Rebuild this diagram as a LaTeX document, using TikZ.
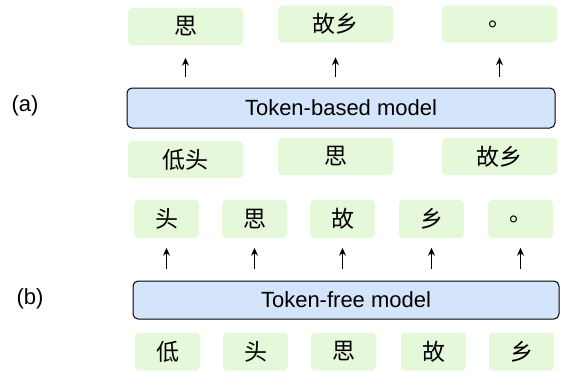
\documentclass[tikz,border=0pt]{standalone}
\usepackage{fontspec}
\setmainfont{Liberation Sans}
\newfontfamily\cjk{Noto Sans CJK SC}
\usepackage{tikz}
\usetikzlibrary{arrows.meta}
\definecolor{tokgreen}{HTML}{E5F8DA}
\definecolor{modblue}{HTML}{D4E5FB}

\begin{document}
\begin{tikzpicture}[x=1pt,y=-1pt,line width=1.5pt,>={Stealth[length=8pt,width=7pt]},
  tok/.style={fill=tokgreen,rounded corners=4pt,inner sep=0pt,font=\cjk\fontsize{23}{27}\selectfont},
  wide/.style={tok,minimum width=115pt,minimum height=37pt},
  narrow/.style={tok,minimum width=65pt,minimum height=38pt},
  model/.style={draw=black,line width=1pt,fill=modblue,rounded corners=5pt,inner sep=0pt,
    font=\fontsize{22}{26}\selectfont},
  tag/.style={font=\fontsize{22}{26}\selectfont}]

  \useasboundingbox (0,0) rectangle (562,372);

  % (a) token-based
  \node[tag] at (25,106) (la) {(a)};
  \node[model,minimum width=428pt,minimum height=40pt] at (341,108) (ma) {Token-based model};

  \node[wide] at (185.5,26.5) (oa1) {思};
  \node[wide] at (335.5,24) (oa2) {故乡};
  \node[wide] at (499.5,24) (oa3) {。};

  \node[wide] at (185.5,159.5) (ia1) {低头};
  \node[wide] at (335.5,156.5) (ia2) {思};
  \node[wide] at (499.5,156.5) (ia3) {故乡};

  \draw [->,shorten <=11pt,shorten >=12pt] (ma.north -| oa1) -- (oa1.south);
  \draw [->,shorten <=11pt,shorten >=14pt] (ma.north -| oa2) -- (oa2.south);
  \draw [->,shorten <=11pt,shorten >=14pt] (ma.north -| oa3) -- (oa3.south);

  % (b) token-free
  \node[tag] at (30,299) (lb) {(b)};
  \node[model,minimum width=426pt,minimum height=38pt] at (346,300) (mb) {Token-free model};

  \node[narrow] at (166.5,219) (ob1) {头};
  \node[narrow] at (254.5,219) (ob2) {思};
  \node[narrow] at (342.5,219) (ob3) {故};
  \node[narrow] at (431.5,219) (ob4) {乡};
  \node[narrow] at (520.5,219) (ob5) {。};

  \node[narrow] at (167.5,351.5) (ib1) {低};
  \node[narrow] at (255.5,351.5) (ib2) {头};
  \node[narrow] at (343.5,351.5) (ib3) {思};
  \node[narrow] at (433.5,351.5) (ib4) {故};
  \node[narrow] at (521.5,351.5) (ib5) {乡};

  \draw [->,shorten <=12pt,shorten >=9pt] (mb.north -| ob1) -- (ob1.south);
  \draw [->,shorten <=12pt,shorten >=9pt] (mb.north -| ob2) -- (ob2.south);
  \draw [->,shorten <=12pt,shorten >=9pt] (mb.north -| ob3) -- (ob3.south);
  \draw [->,shorten <=12pt,shorten >=9pt] (mb.north -| ob4) -- (ob4.south);
  \draw [->,shorten <=12pt,shorten >=9pt] (mb.north -| ob5) -- (ob5.south);

\end{tikzpicture}
\end{document}
